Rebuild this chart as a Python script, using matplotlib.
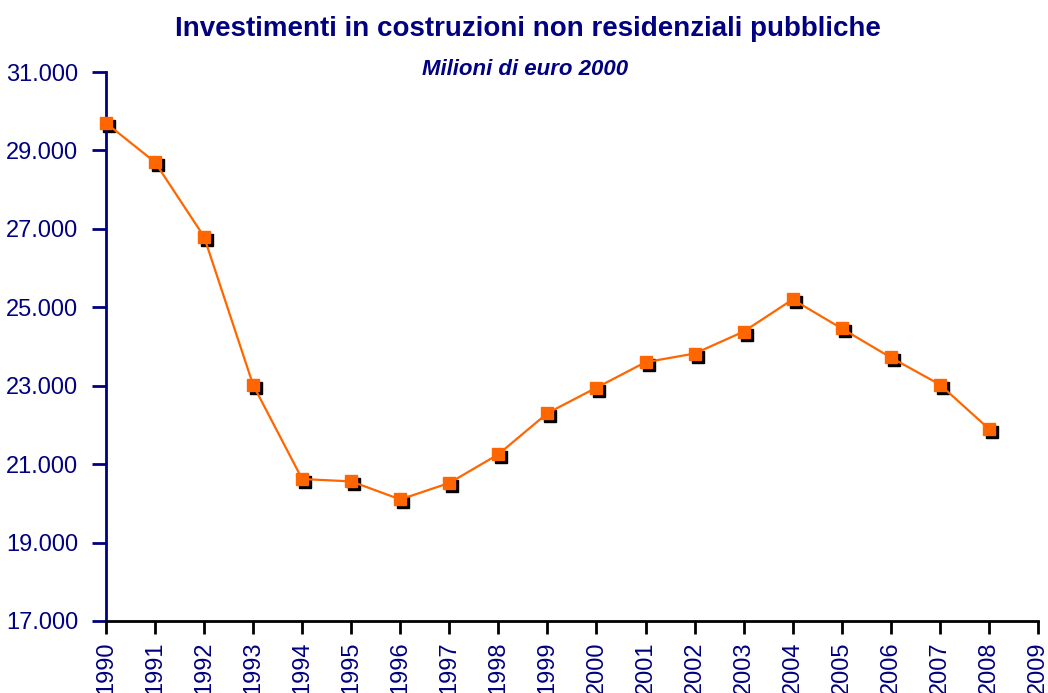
import matplotlib.pyplot as plt
import matplotlib.transforms as mtransforms
from matplotlib.ticker import FuncFormatter

# Dati: investimenti in costruzioni non residenziali pubbliche (milioni di euro 2000)
anni = list(range(1990, 2009))
valori = [29700, 28700, 26800, 23020, 20620, 20560, 20100, 20520, 21250,
          22300, 22950, 23600, 23820, 24380, 25200, 24460, 23720, 23030, 21900]
anni_ticks = list(range(1990, 2010))
y_ticks = [17000, 19000, 21000, 23000, 25000, 27000, 29000, 31000]

navy = '#000080'
arancio = '#FF6600'

plt.rcParams['font.family'] = ['Liberation Sans', 'DejaVu Sans']

fig = plt.figure(figsize=(10.48, 6.93), dpi=100)
ax = fig.add_axes([0.1011, 0.1039, 0.8893, 0.7922])

# ombra nera dei marker, spostata in basso a destra
ombra = mtransforms.offset_copy(ax.transData, fig=fig, x=3, y=-3, units='dots')
ax.plot(anni, valori, linestyle='none', marker='s', markersize=8.6,
        color='black', transform=ombra, zorder=2, clip_on=False)
ax.plot(anni, valori, color=arancio, linewidth=1.6, marker='s', markersize=8.6,
        markerfacecolor=arancio, markeredgecolor=arancio, zorder=3, clip_on=False)

ax.set_xlim(1990, 2009)
ax.set_ylim(17000, 31000)
ax.set_xticks(anni_ticks)
ax.set_xticklabels([str(a) for a in anni_ticks], rotation=90)
ax.set_yticks(y_ticks)
ax.yaxis.set_major_formatter(FuncFormatter(lambda v, p: f'{int(v):,}'.replace(',', '.')))

for s in ['top', 'right']:
    ax.spines[s].set_visible(False)
ax.spines['left'].set_color(navy)
ax.spines['left'].set_linewidth(2)
ax.spines['bottom'].set_color('black')
ax.spines['bottom'].set_linewidth(2)

ax.tick_params(axis='y', colors=navy, labelsize=17, length=10, width=2, direction='out', pad=10)
ax.tick_params(axis='x', colors='black', labelcolor=navy, labelsize=17, length=9, width=2,
               direction='out', pad=6)

fig.text(0.504, 0.958, 'Investimenti in costruzioni non residenziali pubbliche',
         ha='center', va='center', fontsize=20, fontweight='bold', color=navy)
fig.text(0.501, 0.899, 'Milioni di euro 2000', ha='center', va='center',
         fontsize=16, fontstyle='italic', fontweight='bold', color=navy)

fig.savefig('out.png', dpi=100)
